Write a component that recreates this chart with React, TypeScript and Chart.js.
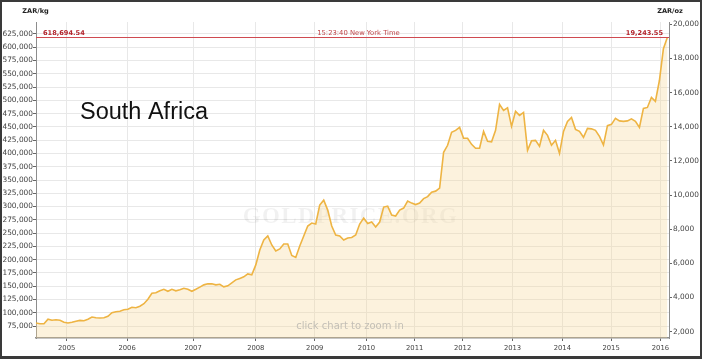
import React, { useEffect, useRef } from "react";
import { Chart, registerables } from "chart.js";

Chart.register(...registerables);

// ---- data ----
const OZ_PER_KG = 32.1507466;
// gold price in ZAR per kg, one point per sample (mid-2004 .. early 2016)
const priceZarKg: number[] = [
  80600, 79300, 79300, 87800, 85900, 86800, 85900, 82100, 80600, 82100,
  84000, 85500, 85000, 87800, 91900, 90600, 90000, 90600, 93400, 100000,
  101900, 102800, 105600, 106500, 110300, 109400, 112200, 116900, 125300, 136600,
  137500, 141300, 144100, 140300, 144100, 141300, 143200, 146000, 144100, 140300,
  144100, 148200, 152500, 154400, 154400, 152500, 153500, 148800, 150700, 156300,
  161900, 164700, 167600, 173200, 171300, 190100, 218200, 237000, 244500, 227600,
  216400, 220100, 229500, 229500, 207900, 204200, 225700, 244500, 263300, 268900,
  267100, 302700, 312000, 293300, 263300, 246400, 244500, 237000, 240800, 241700,
  246400, 267100, 278300, 268000, 270800, 261400, 270800, 299000, 300800, 283900,
  282100, 293300, 297100, 310200, 306500, 303700, 306500, 314900, 318700, 327100,
  329000, 334600, 402200, 415400, 439700, 443500, 449100, 428500, 428500, 417200,
  409700, 409700, 441600, 422900, 421900, 443500, 492300, 481100, 486100, 451000,
  479200, 471700, 477300, 406000, 423800, 424700, 413500, 443500, 434100, 415400,
  424700, 400300, 441600, 460400, 467900, 445400, 441600, 430400, 447300, 446300,
  443500, 432200, 415900, 452300, 454800, 466000, 461300, 460400, 461300, 465100,
  460400, 449100, 484800, 486700, 505500, 498000, 537400, 597400, 618694.54,
];
const currentKg = 618694.54;
const currentOz = 19243.55;
const timeLabel = "15:23:40 New York Time";
const regionLabel = "South Africa";
const watermark = "GOLDPRICE.ORG";
const zoomHint = "click chart to zoom in";

const yearLabels = ["2005", "2006", "2007", "2008", "2009", "2010", "2011", "2012", "2013", "2014", "2015", "2016"];
// sample index at which each year starts
const yearTickIndex = [7.67, 22.8, 39.3, 55, 69.75, 82.7, 94.75, 106.75, 119.25, 131.7, 143.9, 156.25];
const xMaxIndex = 158.4;

const kgTicks = [75000, 100000, 125000, 150000, 175000, 200000, 225000, 250000, 275000, 300000,
  325000, 350000, 375000, 400000, 425000, 450000, 475000, 500000, 525000, 550000, 575000, 600000, 625000];
const ozTicks = [2000, 4000, 6000, 8000, 10000, 12000, 14000, 16000, 18000, 20000];

const KG_MIN = 52400;
const KG_MAX = 647600;

const fmt = (v: number) => Math.round(v).toLocaleString("en-US");
const fmt2 = (v: number) => v.toLocaleString("en-US", { minimumFractionDigits: 2, maximumFractionDigits: 2 });

const overlay = {
  id: "overlay",
  beforeDatasetsDraw(chart: any) {
    const { ctx, chartArea } = chart;
    ctx.save();
    ctx.font = 'bold 23px "Liberation Serif"';
    (ctx as any).letterSpacing = "1.4px";
    ctx.fillStyle = "rgba(0,0,0,0.055)";
    ctx.textAlign = "center";
    ctx.textBaseline = "alphabetic";
    ctx.fillText(watermark, (chartArea.left + chartArea.right) / 2 - 2, 223);
    ctx.restore();
  },
  afterDatasetsDraw(chart: any) {
    const { ctx, chartArea, scales } = chart;
    const y = Math.round(scales.y.getPixelForValue(currentKg)) + 0.5;
    ctx.save();
    ctx.strokeStyle = "#cf4a50";
    ctx.lineWidth = 1;
    ctx.beginPath();
    ctx.moveTo(chartArea.left, y);
    ctx.lineTo(chartArea.right, y);
    ctx.stroke();

    ctx.textBaseline = "alphabetic";
    ctx.fillStyle = "#b3232b";
    ctx.font = 'bold 6.6px "DejaVu Sans"';
    ctx.textAlign = "left";
    ctx.fillText(fmt2(currentKg), chartArea.left + 7, y - 2.5);
    ctx.textAlign = "right";
    ctx.fillText(fmt2(currentOz), chartArea.right - 6, y - 2.5);
    ctx.font = '6.8px "DejaVu Sans"';
    ctx.fillStyle = "#c0474b";
    ctx.textAlign = "center";
    ctx.fillText(timeLabel, 358.5, y - 2.5);

    ctx.fillStyle = "#111";
    ctx.font = '23.5px "Liberation Sans"';
    ctx.textAlign = "left";
    ctx.fillText(regionLabel, 80, 119);

    ctx.fillStyle = "#c3bfb6";
    ctx.font = '10px "DejaVu Sans"';
    ctx.textAlign = "center";
    ctx.fillText(zoomHint, 350, 328.5);
    ctx.restore();
  },
  afterDraw(chart: any) {
    const { ctx, width, height, chartArea } = chart;
    ctx.save();
    ctx.fillStyle = "#222";
    ctx.font = 'bold 6.6px "DejaVu Sans"';
    ctx.textAlign = "center";
    ctx.textBaseline = "middle";
    ctx.fillText("ZAR/kg", chartArea.left - 0.5, 11);
    ctx.fillText("ZAR/oz", chartArea.right + 1, 11);
    // outer frame
    ctx.fillStyle = "#3a3a3a";
    ctx.fillRect(0, 0, width, 2);
    ctx.fillRect(0, 0, 2, height);
    ctx.fillRect(width - 2, 0, 2, height);
    ctx.fillRect(0, height - 3, width, 3);
    ctx.restore();
  },
};

export default function App() {
  const ref = useRef<HTMLCanvasElement | null>(null);
  useEffect(() => {
    if (!ref.current) return;
    const tickFont = { family: '"DejaVu Sans"', size: 7.4 };
    const chart = new Chart(ref.current, {
      type: "line",
      data: {
        datasets: [
          {
            data: priceZarKg.map((v, i) => ({ x: i, y: v })),
            yAxisID: "y",
            borderColor: "#eeb443",
            borderWidth: 1.6,
            pointRadius: 0,
            fill: "start",
            backgroundColor: "rgba(245,215,150,0.32)",
            tension: 0,
          },
        ],
      },
      options: {
        animation: false,
        responsive: false,
        events: [],
        layout: { padding: { top: 22, left: 0, right: 0, bottom: 0 } },
        plugins: { legend: { display: false }, tooltip: { enabled: false } },
        scales: {
          x: {
            type: "linear",
            min: 0,
            max: xMaxIndex,
            afterBuildTicks: (axis: any) => {
              axis.ticks = yearTickIndex.map((v) => ({ value: v }));
            },
            afterFit: (s: any) => {
              s.height = 21;
            },
            grid: { color: "#e8e8e8", tickColor: "#666", tickLength: 3 },
            border: { color: "#8d8d8d", width: 1.5 },
            ticks: {
              font: { family: '"DejaVu Sans"', size: 6.8 },
              color: "#444",
              padding: 3,
              maxRotation: 0,
              autoSkip: false,
              callback: (v: any) => {
                const k = yearTickIndex.indexOf(Number(v));
                return k >= 0 ? yearLabels[k] : "";
              },
            },
          },
          y: {
            position: "left",
            min: KG_MIN,
            max: KG_MAX,
            afterBuildTicks: (axis: any) => {
              axis.ticks = kgTicks.map((v) => ({ value: v }));
            },
            afterFit: (s: any) => {
              s.width = 36;
            },
            grid: { color: "#e8e8e8", tickColor: "#666", tickLength: 3 },
            border: { color: "#8d8d8d", width: 1 },
            ticks: { font: tickFont, color: "#444", padding: 0, callback: (v: any) => fmt(Number(v)) },
          },
          y2: {
            position: "right",
            min: KG_MIN / OZ_PER_KG,
            max: KG_MAX / OZ_PER_KG,
            afterBuildTicks: (axis: any) => {
              axis.ticks = ozTicks.map((v) => ({ value: v }));
            },
            afterFit: (s: any) => {
              s.width = 33;
            },
            grid: { drawOnChartArea: false, tickColor: "#666", tickLength: 3 },
            border: { color: "#8d8d8d", width: 1 },
            ticks: { font: tickFont, color: "#444", padding: 1, callback: (v: any) => fmt(Number(v)) },
          },
        },
      },
      plugins: [overlay],
    } as any);
    return () => chart.destroy();
  }, []);
  return (
    <div style={{ position: "absolute", left: 0, top: 0, width: 702, height: 359, background: "#fff" }}>
      <canvas ref={ref} width={702} height={359} style={{ display: "block" }} />
    </div>
  );
}
